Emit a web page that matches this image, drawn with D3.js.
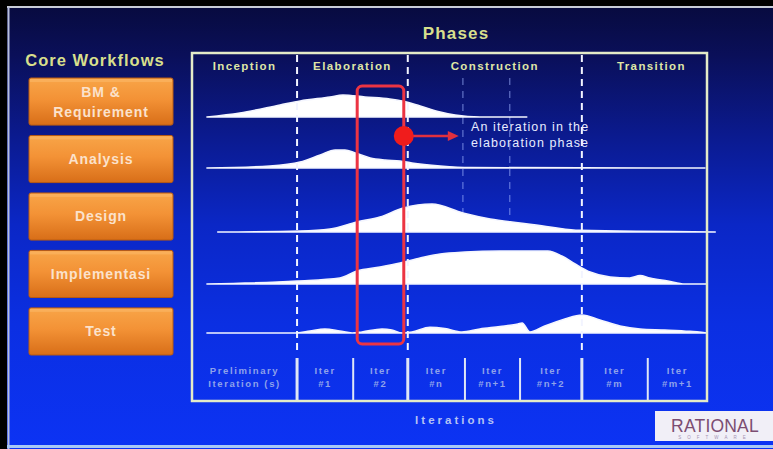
<!DOCTYPE html>
<html>
<head>
<meta charset="utf-8">
<script src="https://cdn.jsdelivr.net/npm/d3@7"></script>
<style>
  html, body { margin: 0; padding: 0; overflow: hidden; background: #0b2fe8; }
  svg { display: block; }
  text { font-family: "Liberation Sans", Arial, Helvetica, sans-serif; }
</style>
</head>
<body>
<svg id="chart" width="773" height="449"></svg>
<script>
// ---- data -------------------------------------------------------------
const workflowLabels = [["BM &", "Requirement"], ["Analysis"], ["Design"], ["Implementasi"], ["Test"]];

const phases = ["Inception", "Elaboration", "Construction", "Transition"];
// phase boundaries, as % of the project timeline
const phaseEnds = [20.4, 41.9, 75.7, 100];

// iteration boundaries (% of timeline) and their labels
const iterationEnds = [20.4, 31.3, 41.9, 53.0, 63.7, 75.7, 88.5, 100];
const iterationLabels = [
  ["Preliminary", "Iteration (s)"], ["Iter", "#1"], ["Iter", "#2"], ["Iter", "#n"],
  ["Iter", "#n+1"], ["Iter", "#n+2"], ["Iter", "#m"], ["Iter", "#m+1"]
];
// faint guides inside the construction phase
const constructionGuides = [52.6, 61.7];
// highlighted iteration (index into iterationLabels)
const highlightedIteration = 2;

// relative effort per workflow over time: [timeline %, effort]
const bmRequirement = [
  [2.9, 0], [9.3, 1], [17.1, 3], [21, 4], [26.8, 5], [29.3, 5.5], [33.6, 5],
  [38.4, 4.5], [40.8, 4], [44.3, 2.75], [48.2, 1.25], [51.1, 0.5], [55.9, 0], [65, 0]
];
const analysis = [
  [2.9, 0], [15.1, 0.5], [21, 1.5], [24.9, 3.25], [27.8, 4.5], [29.7, 4.5], [31.7, 3.75],
  [34.6, 2.5], [37.5, 2], [40.4, 1.75], [42.7, 1.25], [48.2, 0.5], [54, 0.1], [99.6, 0]
];
const design = [
  [5, 0], [21, 0.25], [26.8, 0.75], [32, 2.5], [36.5, 3.75], [41, 6], [46.6, 7],
  [52.6, 4.75], [57.9, 3.25], [63.7, 2.25], [69.5, 1.25], [75.3, 0.4], [101.6, 0]
];
const implementation = [
  [2.9, 0], [20.4, 0.75], [28.7, 1.5], [32, 3.25], [36.5, 4.25], [40.4, 5.25], [44.3, 6.5],
  [48.2, 7.5], [53, 8], [59.8, 8.25], [69.1, 8.25], [71.8, 7], [74.4, 5], [77.3, 3],
  [81.2, 1.75], [85, 1.5], [87, 2.1], [88.9, 1.5], [92.4, 0.75], [95.7, 0], [100, 0]
];
const test = [
  [2.9, 0], [20.4, 0], [22.9, 0.5], [25.8, 1], [28.7, 0.5], [31.1, 0], [33, 0.25],
  [36.9, 1], [38.8, 0.75], [40.8, 0], [42.7, 0.25], [46.2, 1.4], [49.1, 1.1], [52.4, 0.25],
  [55.9, 1], [59.8, 1.6], [63.3, 2.25], [64.1, 2.5], [65.6, 0.25], [68.5, 1.75],
  [72.4, 3.5], [75.7, 4.5], [79.2, 3.25], [83.1, 1.75], [87, 1], [91.8, 0.75],
  [96.7, 0.4], [100, 0]
];
const effortSeries = [bmRequirement, analysis, design, implementation, test];

// ---- layout -----------------------------------------------------------
const W = 773, H = 449;
const frame = { left: 192, right: 707, top: 53, bottom: 401 };
const rowBaseline = [117, 168, 232, 284, 333];
const curvesBottom = 352;
const iterRowTop = 358;

const svg = d3.select("#chart");
const defs = svg.append("defs");

const bg = defs.append("linearGradient").attr("id", "bg")
  .attr("x1", 0).attr("y1", 0).attr("x2", 0).attr("y2", 1);
[[0, "#070a3c"], [0.12, "#0a0f58"], [0.3, "#0b1a8e"], [0.5, "#0b27c6"],
 [0.72, "#0b2fe2"], [1, "#0c33f4"]].forEach(([o, c]) =>
  bg.append("stop").attr("offset", o).attr("stop-color", c));

const btn = defs.append("linearGradient").attr("id", "btn")
  .attr("x1", 0).attr("y1", 0).attr("x2", 0).attr("y2", 1);
[[0, "#f8a548"], [0.45, "#f39236"], [1, "#d86e18"]].forEach(([o, c]) =>
  btn.append("stop").attr("offset", o).attr("stop-color", c));

// slide background and frame edges
svg.append("rect").attr("width", W).attr("height", H).attr("fill", "url(#bg)");
svg.append("rect").attr("x", 0).attr("y", 0).attr("width", W).attr("height", 6).attr("fill", "#000");
svg.append("rect").attr("x", 0).attr("y", 0).attr("width", 7).attr("height", H).attr("fill", "#000");
svg.append("line").attr("x1", 7).attr("x2", W).attr("y1", 7).attr("y2", 7)
  .attr("stroke", "#c8ccd8").attr("stroke-width", 2);
svg.append("line").attr("x1", 8.5).attr("x2", 8.5).attr("y1", 7).attr("y2", H)
  .attr("stroke", "#b8c0dc").attr("stroke-width", 2);
svg.append("line").attr("x1", 7).attr("x2", W).attr("y1", 446.5).attr("y2", 446.5)
  .attr("stroke", "#a8c8f6").attr("stroke-width", 3);

// ---- scales -----------------------------------------------------------
const x = d3.scaleLinear().domain([0, 100]).range([frame.left, frame.right]);
const effort = d3.scaleLinear().domain([0, 10]).range([0, 40]);
const buttonBand = d3.scaleBand().domain(d3.range(workflowLabels.length))
  .range([78, 355]).paddingInner(0.18).paddingOuter(0);

// ---- titles -----------------------------------------------------------
const titleColor = "#d7df8c";
svg.append("text").attr("x", 95).attr("y", 66).attr("text-anchor", "middle")
  .attr("fill", titleColor).attr("font-size", 16.5).attr("font-weight", "bold")
  .attr("letter-spacing", 1).text("Core Workflows");
svg.append("text").attr("x", 456).attr("y", 39)
  .attr("text-anchor", "middle").attr("fill", titleColor).attr("font-size", 17)
  .attr("font-weight", "bold").attr("letter-spacing", 1.2).text("Phases");

// ---- workflow buttons -------------------------------------------------
const buttons = svg.append("g").selectAll("g").data(workflowLabels).join("g")
  .attr("transform", (d, i) => `translate(29,${buttonBand(i)})`);
buttons.append("rect").attr("width", 144).attr("height", buttonBand.bandwidth())
  .attr("rx", 2).attr("fill", "url(#btn)").attr("stroke", "#b85a12").attr("stroke-width", 1);
buttons.append("rect").attr("x", 1).attr("y", 1).attr("width", 142).attr("height", 3)
  .attr("fill", "#fbb868").attr("opacity", 0.6);
buttons.each(function (lines) {
  const g = d3.select(this);
  const h = buttonBand.bandwidth();
  const lh = 20;
  const y0 = h / 2 - (lines.length - 1) * lh / 2 + 5;
  lines.forEach((t, k) => g.append("text").attr("x", 72).attr("y", y0 + k * lh)
    .attr("text-anchor", "middle").attr("fill", "#fbe2cc").attr("font-size", 14)
    .attr("font-weight", "bold").attr("letter-spacing", 0.9).text(t));
});

// ---- chart frame & phase headers --------------------------------------
const phaseStarts = [0, ...phaseEnds.slice(0, -1)];
svg.append("g").selectAll("text").data(phases).join("text")
  .attr("x", (d, i) => x((phaseStarts[i] + phaseEnds[i]) / 2) + (i === 3 ? 7 : 0))
  .attr("y", 70).attr("text-anchor", "middle").attr("fill", "#dfe6a6")
  .attr("font-size", 11.5).attr("font-weight", "bold").attr("letter-spacing", 1.4)
  .text(d => d);

// construction guides
svg.append("g").selectAll("line").data(constructionGuides).join("line")
  .attr("x1", d => x(d)).attr("x2", d => x(d)).attr("y1", 78).attr("y2", 232)
  .attr("stroke", "#9fb2ff").attr("stroke-opacity", 0.55).attr("stroke-width", 1.3)
  .attr("stroke-dasharray", "7 6");

// ---- effort humps -----------------------------------------------------
const area = d3.area().curve(d3.curveMonotoneX)
  .x(d => x(d[0]));
const humps = svg.append("g");
effortSeries.forEach((series, i) => {
  const base = rowBaseline[i];
  humps.append("path").datum(series)
    .attr("d", area.y0(base).y1(d => base - effort(d[1])))
    .attr("fill", "#ffffff").attr("stroke", "#f4f6ff").attr("stroke-width", 1.6)
    .attr("stroke-linejoin", "round");
});

// phase dividers (dashed through the workflow area)
svg.append("g").selectAll("line").data(phaseEnds.slice(0, -1)).join("line")
  .attr("x1", d => x(d)).attr("x2", d => x(d)).attr("y1", frame.top + 2).attr("y2", curvesBottom)
  .attr("stroke", "#f2f4ff").attr("stroke-width", 2).attr("stroke-dasharray", "7 5");

// ---- iteration row ----------------------------------------------------
const iterStarts = [0, ...iterationEnds.slice(0, -1)];
svg.append("g").selectAll("line").data(iterationEnds.slice(0, -1)).join("line")
  .attr("x1", d => x(d)).attr("x2", d => x(d)).attr("y1", iterRowTop).attr("y2", frame.bottom)
  .attr("stroke", "#dfe6f6")
  .attr("stroke-width", d => phaseEnds.includes(d) ? 3 : 2);
const iterText = svg.append("g").selectAll("text").data(iterationLabels).join("text")
  .attr("x", (d, i) => x((iterStarts[i] + iterationEnds[i]) / 2))
  .attr("text-anchor", "middle").attr("fill", "#8fa2ea")
  .attr("font-size", 9.5).attr("font-weight", "bold").attr("letter-spacing", 1.6);
iterText.selectAll("tspan").data(d => d).join("tspan")
  .attr("x", function () { return d3.select(this.parentNode).attr("x"); })
  .attr("y", (d, k) => 374 + k * 13).text(d => d);

svg.append("text").attr("x", 456).attr("y", 424).attr("text-anchor", "middle")
  .attr("fill", "#b4c2f4").attr("font-size", 11.5).attr("font-weight", "bold")
  .attr("letter-spacing", 3).text("Iterations");

// frame drawn last so it sits over the line ends
svg.append("rect").attr("x", frame.left).attr("y", frame.top)
  .attr("width", frame.right - frame.left).attr("height", frame.bottom - frame.top)
  .attr("fill", "none").attr("stroke", "#e4ebc8").attr("stroke-width", 2.5);

// ---- highlighted iteration -------------------------------------------
const hx0 = x(iterStarts[highlightedIteration]) + 4;
const hx1 = x(iterationEnds[highlightedIteration]) - 4;
svg.append("rect").attr("x", hx0).attr("y", 86).attr("width", hx1 - hx0).attr("height", 258)
  .attr("rx", 5).attr("fill", "none").attr("stroke", "#ec3443").attr("stroke-width", 3);
const calloutY = 136;
svg.append("line").attr("x1", hx1 + 8).attr("x2", hx1 + 46).attr("y1", calloutY).attr("y2", calloutY)
  .attr("stroke", "#e2303f").attr("stroke-width", 2.5);
svg.append("path")
  .attr("d", `M${hx1 + 55},${calloutY} L${hx1 + 44},${calloutY - 5} L${hx1 + 44},${calloutY + 5} Z`)
  .attr("fill", "#e2303f");
svg.append("circle").attr("cx", hx1).attr("cy", calloutY).attr("r", 10).attr("fill", "#f01c1c");
svg.append("text").attr("x", 471).attr("fill", "#e8ecff").attr("font-size", 12.5)
  .attr("letter-spacing", 1.1)
  .selectAll("tspan").data(["An iteration in the", "elaboration phase"]).join("tspan")
  .attr("x", 471).attr("y", (d, k) => 131 + k * 16).text(d => d);

// ---- logo -------------------------------------------------------------
svg.append("rect").attr("x", 655).attr("y", 411).attr("width", 118).attr("height", 30)
  .attr("fill", "#f1eff7");
svg.append("text").attr("x", 715).attr("y", 432).attr("text-anchor", "middle")
  .attr("fill", "#7c4d72").attr("font-size", 17.5).attr("letter-spacing", 0.2).text("RATIONAL");
svg.append("text").attr("x", 715).attr("y", 438.5).attr("text-anchor", "middle")
  .attr("fill", "#a694b4").attr("font-size", 4.5).attr("letter-spacing", 6).text("SOFTWARE");
</script>
</body>
</html>
